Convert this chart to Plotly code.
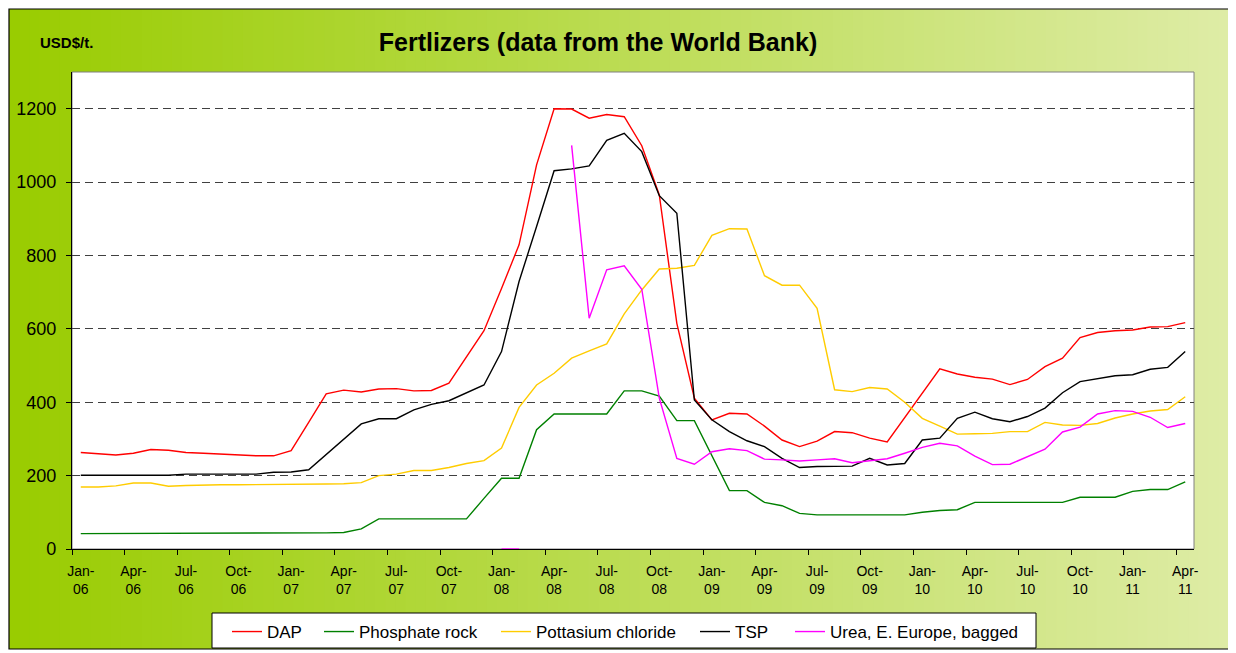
import plotly.graph_objects as go

# ---------------- data ----------------
months = [
    "Jan-06", "Feb-06", "Mar-06", "Apr-06", "May-06", "Jun-06", "Jul-06", "Aug-06", "Sep-06", "Oct-06", "Nov-06", "Dec-06",
    "Jan-07", "Feb-07", "Mar-07", "Apr-07", "May-07", "Jun-07", "Jul-07", "Aug-07", "Sep-07", "Oct-07", "Nov-07", "Dec-07",
    "Jan-08", "Feb-08", "Mar-08", "Apr-08", "May-08", "Jun-08", "Jul-08", "Aug-08", "Sep-08", "Oct-08", "Nov-08", "Dec-08",
    "Jan-09", "Feb-09", "Mar-09", "Apr-09", "May-09", "Jun-09", "Jul-09", "Aug-09", "Sep-09", "Oct-09", "Nov-09", "Dec-09",
    "Jan-10", "Feb-10", "Mar-10", "Apr-10", "May-10", "Jun-10", "Jul-10", "Aug-10", "Sep-10", "Oct-10", "Nov-10", "Dec-10",
    "Jan-11", "Feb-11", "Mar-11", "Apr-11",
]

tick_labels = ["Jan-06", "Apr-06", "Jul-06", "Oct-06", "Jan-07", "Apr-07", "Jul-07", "Oct-07",
               "Jan-08", "Apr-08", "Jul-08", "Oct-08", "Jan-09", "Apr-09", "Jul-09", "Oct-09",
               "Jan-10", "Apr-10", "Jul-10", "Oct-10", "Jan-11", "Apr-11"]

y_ticks = [0, 200, 400, 600, 800, 1000, 1200]

dap = [263, 260, 256, 261, 271, 269, 263, 261, 259, 255, 254, 254,
       268, 345, 423, 433, 428, 436, 437, 431, 432, 452, 524, 595,
       710, 829, 1047, 1200, 1199, 1174, 1184, 1178, 1099, 965, 615, 411,
       352, 370, 368, 335, 297, 279, 294, 320, 317, 302, 292, 358,
       425, 491, 477, 468, 463, 448, 462, 497, 520, 576, 590, 595,
       597, 605, 606, 617]

phosphate_rock = [42, 42, 43, 43, 43, 43, 44, 44, 44, 44, 44, 44,
                  44, 44, 44, 45, 55, 82, 82, 82, 82, 82, 82, 138,
                  193, 193, 325, 368, 368, 368, 368, 431, 431, 417, 350, 350,
                  254, 159, 159, 127, 118, 97, 93, 93, 93, 93, 93, 93,
                  100, 105, 107, 127, 127, 127, 127, 127, 127, 141, 141, 141,
                  157, 162, 162, 183]

potassium_chloride = [169, 169, 172, 180, 180, 171, 173, 175, 175, 175, 175, 175,
                      175, 175, 177, 178, 181, 200, 204, 214, 214, 222, 233, 241,
                      275, 386, 447, 479, 520, 540, 559, 641, 706, 763, 765, 773,
                      855, 873, 872, 745, 719, 719, 656, 434, 429, 440, 436, 400,
                      356, 335, 313, 314, 315, 320, 320, 345, 338, 337, 342, 357,
                      368, 376, 380, 415]

tsp = [201, 201, 201, 201, 201, 201, 204, 204, 204, 204, 204, 209,
       210, 216, 258, 300, 341, 355, 355, 379, 394, 404, 425, 447,
       538, 729, 879, 1031, 1036, 1044, 1114, 1133, 1083, 963, 915, 406,
       352, 320, 295, 279, 247, 222, 225, 226, 226, 247, 229, 233,
       297, 302, 356, 373, 355, 347, 361, 384, 426, 456, 464, 472,
       475, 490, 495, 538]

urea = [None] * 24 + [0, 0, None, None,
        1100, 629, 761, 772, 708, 411, 247, 231,
        265, 273, 268, 245, 243, 240, 243, 246, 235, 241, 246, 261,
        277, 288, 281, 253, 230, 231, 252, 272, 319, 332, 368, 377,
        375, 359, 331, 342]

series = [
    ("DAP", dap, "#FF0000", 47),
    ("Phosphate rock", phosphate_rock, "#008000", 132),
    ("Pottasium chloride", potassium_chloride, "#FFCC00", 154),
    ("TSP", tsp, "#000000", 50),
    ("Urea, E. Europe, bagged", urea, "#FF00FF", 190),
]

# ---------------- figure ----------------
O = 8                      # page body margin offset
W, H = 1236 - O, 653 - O
L = 72 - O
T = 72 - O
R = W - (1194 - O)
B = H - (549 - O)
PW, PH = W - L - R, H - T - B


def px_x(p):   # p in reference-screen pixels
    return (p - O - L) / PW


def px_y(p):
    return (H - B - (p - O)) / PH


x = list(range(len(months)))
label_pos = [months.index(t) for t in tick_labels]
label_txt = [t.replace("-", "-<br>") for t in tick_labels]

fig = go.Figure()
for name, vals, color, lw in series:
    fig.add_trace(go.Scatter(x=x, y=vals, name=name, mode="lines",
                             line=dict(color=color, width=1.4),
                             connectgaps=False, legendwidth=lw,
                             hoverinfo="x+y+name"))

shapes = []
# gradient background of the chart area
x0p, x1p, y0p, y1p = 9, 1229, 9, 649
n = 120
c0 = (153, 204, 0)
c1 = (222, 236, 166)
for k in range(n):
    a = x0p + (x1p - x0p) * k / n
    b = x0p + (x1p - x0p) * (k + 1) / n
    f = (k + 0.5) / n
    col = "rgb(%d,%d,%d)" % tuple(round(c0[j] + (c1[j] - c0[j]) * f) for j in range(3))
    shapes.append(dict(type="rect", xref="paper", yref="paper",
                       x0=px_x(a), x1=px_x(b) + 0.001, y0=px_y(y1p), y1=px_y(y0p),
                       fillcolor=col, line=dict(width=0), layer="below"))
# outer border
shapes.append(dict(type="rect", xref="paper", yref="paper",
                   x0=px_x(x0p), x1=px_x(x1p), y0=px_y(y1p), y1=px_y(y0p),
                   fillcolor="rgba(0,0,0,0)", line=dict(color="black", width=1.2), layer="below"))
# plot area
shapes.append(dict(type="rect", xref="x domain", yref="y domain", x0=0, x1=1, y0=0, y1=1,
                   fillcolor="white", line=dict(color="#808080", width=1), layer="below"))
# legend box
shapes.append(dict(type="rect", xref="paper", yref="paper",
                   x0=px_x(212), x1=px_x(1036), y0=px_y(648), y1=px_y(613),
                   fillcolor="white", line=dict(color="black", width=1), layer="below"))

fig.update_layout(
    width=W, height=H,
    margin=dict(l=L, r=R, t=T, b=B, autoexpand=False),
    paper_bgcolor="white", plot_bgcolor="white",
    font=dict(family="Arial, Liberation Sans, sans-serif", color="black"),
    shapes=shapes,
    title=dict(text="<b>Fertlizers (data from the World Bank)</b>",
               x=(598 - O) / W, xref="container", xanchor="center",
               y=1 - (42 - O) / H, yref="container", yanchor="middle",
               font=dict(size=25, color="black")),
    annotations=[dict(text="<b>USD$/t.</b>", xref="paper", yref="paper",
                      x=px_x(66), y=px_y(43), xanchor="center", yanchor="middle",
                      showarrow=False, font=dict(size=15, color="black"))],
    legend=dict(orientation="h", x=px_x(626), xanchor="center", y=px_y(614), yanchor="top",
                bgcolor="rgba(0,0,0,0)", borderwidth=0,
                font=dict(size=17), tracegroupgap=0),
    xaxis=dict(range=[-0.5, len(months) - 0.5], tickmode="array", tickvals=label_pos,
               ticktext=label_txt, ticks="outside", ticklen=9, tickcolor="rgba(0,0,0,0)",
               tickfont=dict(size=14), showgrid=False, zeroline=False,
               showline=True, linecolor="black", linewidth=1.2, tickangle=0,
               minor=dict(tickmode="array", tickvals=[p - 0.5 for p in label_pos],
                          ticks="outside", ticklen=5, tickcolor="black", tickwidth=1,
                          showgrid=False)),
    yaxis=dict(range=[0, 1300], tickmode="array", tickvals=y_ticks,
               ticks="outside", ticklen=5, tickcolor="black", tickwidth=1,
               tickfont=dict(size=18), showgrid=True, gridcolor="#404040",
               griddash="8px,5px", gridwidth=1, zeroline=False,
               showline=True, linecolor="black", linewidth=1.2,
               ticklabelstandoff=6),
)

fig.write_html("out.html")
